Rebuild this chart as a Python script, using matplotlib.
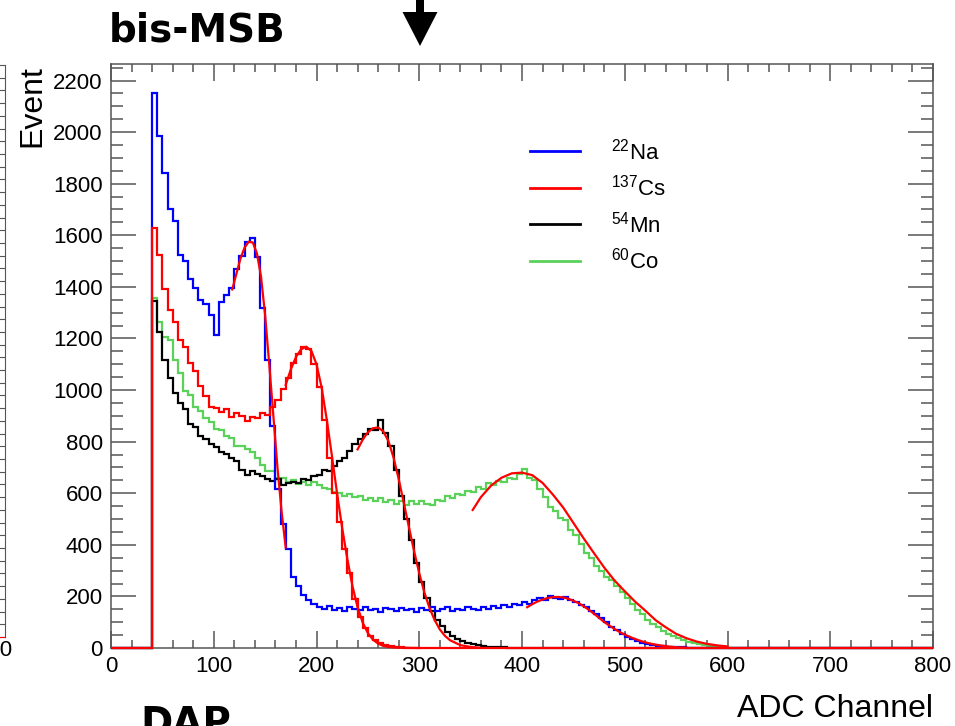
import matplotlib.pyplot as plt
import numpy as np
from matplotlib.lines import Line2D
from matplotlib.patches import Polygon
from matplotlib.ticker import MultipleLocator

plt.rcParams['font.family'] = ['Liberation Sans', 'DejaVu Sans']
plt.rcParams['mathtext.fontset'] = 'custom'
plt.rcParams['mathtext.rm'] = 'Liberation Sans'
plt.rcParams['mathtext.default'] = 'regular'

# spectra: counts per 5-channel bin from the threshold (ch 40) up to ch 600
bin_start = 40
bin_width = 5

na22 = [2150, 1985, 1840, 1700, 1655, 1525, 1500, 1430, 1395, 1350,
        1335, 1290, 1215, 1340, 1370, 1395, 1470, 1520, 1575, 1590,
        1515, 1320, 1115, 860, 615, 480, 385, 275, 240, 205,
        188, 172, 160, 150, 162, 148, 155, 145, 158, 150,
        146, 160, 148, 152, 140, 155, 150, 143, 156, 148,
        152, 140, 155, 148, 160, 145, 150, 158, 142, 153,
        148, 160, 150, 146, 158, 152, 163, 155, 168, 160,
        172, 165, 178, 170, 185, 192, 188, 200, 195, 190,
        196, 185, 178, 165, 160, 142, 130, 115, 100, 82,
        68, 55, 44, 35, 26, 20, 15, 12, 9, 6,
        5, 3, 3, 2, 1, 1, 1, 0, 0, 0,
        0, 0]

cs137 = [1630, 1525, 1390, 1310, 1265, 1195, 1165, 1105, 1075, 1015,
         975, 935, 930, 915, 925, 895, 910, 900, 880, 895,
         890, 910, 905, 935, 960, 1005, 1045, 1105, 1140, 1165,
         1160, 1100, 1010, 885, 735, 600, 490, 385, 290, 190,
         120, 78, 48, 30, 18, 10, 6, 3, 2, 1,
         0, 0, 0, 0, 0, 0, 0, 0, 0, 0,
         0, 0, 0, 0, 0, 0, 0, 0, 0, 0,
         0, 0, 0, 0, 0, 0, 0, 0, 0, 0,
         0, 0, 0, 0, 0, 0, 0, 0, 0, 0,
         0, 0, 0, 0, 0, 0, 0, 0, 0, 0,
         0, 0, 0, 0, 0, 0, 0, 0, 0, 0,
         0, 0]

mn54 = [1345, 1225, 1115, 1045, 990, 950, 925, 870, 855, 820,
        810, 790, 780, 760, 752, 735, 725, 690, 672, 685,
        675, 668, 655, 648, 655, 632, 640, 645, 638, 655,
        650, 668, 672, 690, 685, 705, 725, 738, 765, 790,
        812, 828, 848, 845, 885, 835, 785, 690, 590, 500,
        420, 330, 255, 195, 145, 110, 85, 62, 45, 34,
        26, 20, 14, 10, 7, 5, 3, 2, 2, 1,
        1, 1, 0, 0, 0, 0, 0, 0, 0, 0,
        0, 0, 0, 0, 0, 0, 0, 0, 0, 0,
        0, 0, 0, 0, 0, 0, 0, 0, 0, 0,
        0, 0, 0, 0, 0, 0, 0, 0, 0, 0,
        0, 0]

co60 = [1355, 1265, 1205, 1195, 1115, 1065, 995, 980, 935, 920,
        890, 875, 850, 845, 820, 815, 785, 785, 770, 760,
        735, 710, 688, 685, 660, 660, 645, 652, 635, 645,
        630, 645, 632, 622, 618, 605, 602, 590, 596, 584,
        590, 575, 582, 570, 580, 565, 575, 560, 568, 555,
        570, 558, 568, 560, 555, 575, 568, 588, 580, 598,
        592, 610, 605, 625, 615, 638, 632, 648, 645, 660,
        655, 675, 695, 660, 650, 615, 585, 548, 530, 505,
        495, 458, 440, 405, 370, 350, 318, 300, 275, 262,
        240, 218, 195, 172, 148, 130, 110, 92, 80, 66,
        55, 45, 38, 30, 24, 19, 14, 11, 8, 6,
        4, 2]

# gaussian fits on the photopeaks (channel, counts)
fit_na1_x = [118, 122, 126, 130, 134, 138, 142, 146, 150, 154, 158, 162, 166, 170]
fit_na1_y = [1390, 1450, 1510, 1552, 1575, 1572, 1530, 1440, 1290, 1100, 900, 700, 530, 390]

fit_na2_x = [405, 410, 415, 420, 425, 430, 435, 440, 445, 450, 455, 460, 465, 470, 475,
             480, 485, 490, 495, 500, 505, 510, 515, 520, 525, 530, 540, 550, 560]
fit_na2_y = [158, 170, 180, 188, 194, 197, 198, 196, 191, 183, 174, 162, 148, 133, 117,
             101, 87, 74, 62, 52, 43, 35, 28, 22, 17, 13, 7, 3, 1]

fit_cs_x = [170, 175, 180, 185, 190, 195, 200, 205, 210, 215, 220, 225, 230, 235, 240,
            245, 250, 255, 260, 265, 270, 280, 300]
fit_cs_y = [1020, 1080, 1128, 1158, 1168, 1152, 1100, 1010, 885, 745, 600, 465, 345, 240, 158,
            98, 58, 32, 17, 8, 4, 1, 0]

fit_mn_x = [240, 245, 250, 255, 260, 265, 270, 275, 280, 285, 290, 295, 300, 305, 310,
            315, 320, 325, 330, 340, 350, 360]
fit_mn_y = [770, 808, 836, 852, 855, 840, 802, 738, 655, 562, 468, 375, 290, 215, 155,
            108, 72, 47, 30, 11, 4, 1]

fit_co_x = [352, 360, 370, 380, 390, 400, 410, 420, 430, 440, 450, 460, 470, 480, 490,
            500, 510, 520, 530, 540, 550, 560, 570, 580, 590, 600]
fit_co_y = [535, 585, 630, 660, 677, 680, 670, 640, 595, 545, 485, 425, 368, 312, 262,
            220, 180, 145, 108, 80, 55, 38, 25, 16, 10, 6]

labels = [r'$^{22}$Na', r'$^{137}$Cs', r'$^{54}$Mn', r'$^{60}$Co']
colors = ['#0000ff', '#ff0000', '#000000', '#5ad25a']

fig = plt.figure(figsize=(9.55, 7.26), dpi=100)
W, H = 955, 726

# neighbouring panel, mostly off the left edge
ax0 = fig.add_axes([-100 / W, 89 / H, 105 / W, 572 / H])
ax0.set_xlim(0, 1)
ax0.set_ylim(0, 45)
for s in ['top', 'left']:
    ax0.spines[s].set_visible(False)
ax0.spines['right'].set_color('#555555')
ax0.spines['bottom'].set_color('#ff0000')
ax0.yaxis.set_major_locator(MultipleLocator(1))
ax0.tick_params(axis='y', left=False, right=True, direction='in', length=10,
                color='#555555', labelleft=False)
ax0.set_xticks([])
fig.text(12 / W, 1 - 650 / H, '800', ha='right', va='center', fontsize=16)

ax = fig.add_axes([111 / W, 78 / H, 822 / W, 584 / H])

edges = bin_start + bin_width * np.arange(len(na22) + 1)
full_edges = np.r_[0, edges, 800]
order = [(co60, colors[3]), (mn54, colors[2]), (na22, colors[0]), (cs137, colors[1])]
for z, (counts, c) in enumerate(order):
    ax.stairs(np.r_[0, counts, 0], full_edges, color=c, lw=1.6,
              zorder=2.6 + 0.01 * z, clip_on=False)

for fx, fy in [(fit_na1_x, fit_na1_y), (fit_na2_x, fit_na2_y), (fit_cs_x, fit_cs_y),
               (fit_mn_x, fit_mn_y), (fit_co_x, fit_co_y)]:
    ax.plot(fx, fy, color='#ff0000', lw=1.6, zorder=2.7, clip_on=False)

ax.set_xlim(0, 800)
ax.set_ylim(0, 2264)
ax.xaxis.set_major_locator(MultipleLocator(100))
ax.xaxis.set_minor_locator(MultipleLocator(20))
ax.yaxis.set_major_locator(MultipleLocator(200))
ax.yaxis.set_minor_locator(MultipleLocator(50))
for s in ax.spines.values():
    s.set_color('#555555')
    s.set_linewidth(1.1)
ax.tick_params(which='both', direction='in', top=True, right=True, color='#555555',
               labelsize=16, width=1.1)
ax.tick_params(axis='x', which='major', length=12, pad=6)
ax.tick_params(axis='x', which='minor', length=6)
ax.tick_params(axis='y', which='major', length=18, pad=6)
ax.tick_params(axis='y', which='minor', length=8.6)

handles = [Line2D([0], [0], color=c, lw=2) for c in colors]
ax.legend(handles, labels, loc='upper left', bbox_to_anchor=(0.5097, 0.873),
          frameon=False, fontsize=16, handlelength=2.25, handletextpad=1.4,
          labelspacing=0.48, borderpad=0, borderaxespad=0)

fig.text(32 / W, 1 - 65 / H, 'Event', rotation=90, ha='center', va='top', fontsize=23)
fig.text(933 / W, 1 - 717 / H, 'ADC Channel', ha='right', va='baseline', fontsize=23)

fig.text(109 / W, 1 - 42 / H, 'bis-MSB', ha='left', va='baseline', fontsize=28,
         family=['DejaVu Sans'], fontweight='bold')
fig.text(140 / W, 1 - 705 / H, 'DAP', ha='left', va='top', fontsize=28,
         family=['DejaVu Sans'], fontweight='bold')

# downward marker arrow above the plot (inches)
arrow = Polygon([(4.16, 7.30), (4.24, 7.30), (4.24, 7.14), (4.375, 7.14),
                 (4.20, 6.80), (4.025, 7.14), (4.16, 7.14)],
                closed=True, facecolor='black', edgecolor='none',
                transform=fig.dpi_scale_trans)
fig.patches.append(arrow)

fig.savefig('out.png', dpi=100)
